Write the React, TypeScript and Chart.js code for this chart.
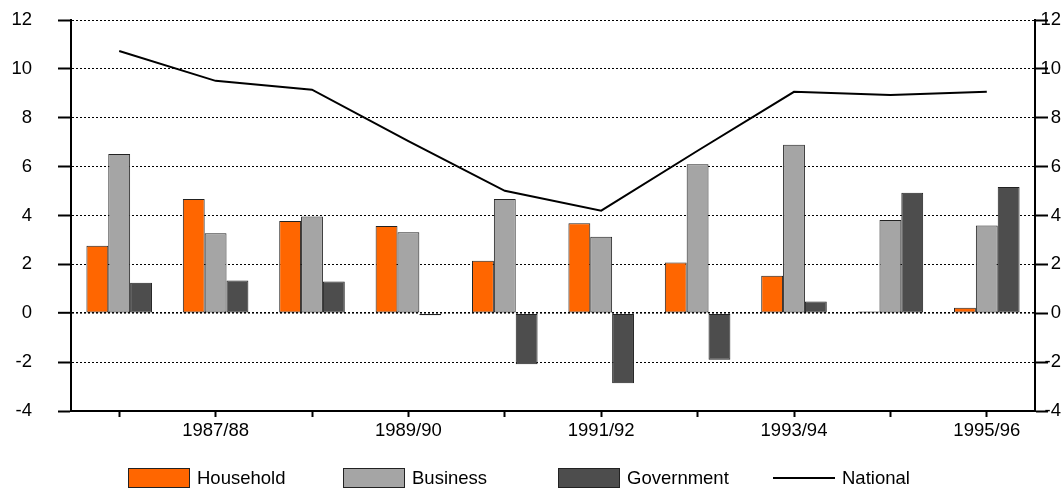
import React, { useEffect, useRef } from 'react';
import { Chart, registerables } from 'chart.js';

Chart.register(...registerables);

const categories = ['1986/87', '1987/88', '1988/89', '1989/90', '1990/91', '1991/92', '1992/93', '1993/94', '1994/95', '1995/96'];
const tickLabels = ['', '1987/88', '', '1989/90', '', '1991/92', '', '1993/94', '', '1995/96'];
const household = [2.76, 4.68, 3.78, 3.57, 2.15, 3.68, 2.08, 1.53, 0.07, 0.23];
const business = [6.52, 3.27, 3.96, 3.31, 4.68, 3.13, 6.10, 6.90, 3.82, 3.59];
const government = [1.25, 1.34, 1.30, -0.08, -2.09, -2.86, -1.90, 0.48, 4.93, 5.17];
const national = [10.73, 9.51, 9.15, 7.04, 5.01, 4.20, 6.65, 9.06, 8.93, 9.06];

const FONT = "'Liberation Sans', Arial, sans-serif";
const FONT_SIZE = 18.5;
const ORANGE = '#FF6600';
const GREY = '#A5A5A5';
const DARK = '#4D4D4D';
const EDGE = '#222222';

const legendItems = [
  { label: 'Household', kind: 'box', color: ORANGE },
  { label: 'Business', kind: 'box', color: GREY },
  { label: 'Government', kind: 'box', color: DARK },
  { label: 'National', kind: 'line', color: '#000000' },
];

const legendPlugin = {
  id: 'fixedLegend',
  afterDraw(chart: any) {
    const ctx = chart.ctx;
    const cy = chart.height - 11;
    const startX = 128;
    const step = 215;
    const boxW = 62;
    const boxH = 20;
    ctx.save();
    ctx.font = `${FONT_SIZE}px ${FONT}`;
    ctx.textBaseline = 'middle';
    ctx.textAlign = 'left';
    legendItems.forEach((it, i) => {
      const x = startX + i * step;
      if (it.kind === 'box') {
        ctx.fillStyle = it.color;
        ctx.fillRect(x, cy - boxH / 2, boxW, boxH);
        ctx.strokeStyle = EDGE;
        ctx.lineWidth = 1;
        ctx.strokeRect(x + 0.5, cy - boxH / 2 + 0.5, boxW - 1, boxH - 1);
      } else {
        ctx.strokeStyle = it.color;
        ctx.lineWidth = 2;
        ctx.beginPath();
        ctx.moveTo(x, cy);
        ctx.lineTo(x + boxW, cy);
        ctx.stroke();
      }
      ctx.fillStyle = '#000';
      ctx.fillText(it.label, x + boxW + 7, cy + 1);
    });
    ctx.restore();
  },
};

export default function App() {
  const ref = useRef<HTMLCanvasElement>(null);
  useEffect(() => {
    if (!ref.current) return;
    const font = { family: FONT, size: FONT_SIZE };
    const barCommon = {
      type: 'bar' as const,
      borderColor: EDGE,
      borderWidth: 1,
      borderSkipped: false,
      categoryPercentage: 0.68,
      barPercentage: 1.0,
      yAxisID: 'y',
    };
    const chart = new Chart(ref.current, {
      type: 'bar',
      data: {
        labels: categories,
        datasets: [
          { ...barCommon, label: 'Household', data: household, backgroundColor: ORANGE },
          { ...barCommon, label: 'Business', data: business, backgroundColor: GREY },
          { ...barCommon, label: 'Government', data: government, backgroundColor: DARK },
          {
            type: 'line',
            label: 'National',
            data: national,
            borderColor: '#000',
            borderWidth: 2,
            pointRadius: 0,
            tension: 0,
            fill: false,
            order: -1,
            yAxisID: 'y',
          } as any,
        ],
      },
      options: {
        responsive: false,
        animation: false,
        devicePixelRatio: 1,
        layout: { padding: { top: 20, bottom: 48, left: 0, right: 0 } },
        plugins: { legend: { display: false }, tooltip: { enabled: false } },
        scales: {
          x: {
            offset: true,
            ticks: {
              autoSkip: false,
              maxRotation: 0,
              padding: 3,
              color: '#000',
              font,
              callback: (_v: any, i: number) => tickLabels[i],
            },
            grid: {
              drawOnChartArea: false,
              offset: false,
              tickLength: 6,
              tickWidth: 2,
              tickColor: '#000',
            },
            border: { display: true, color: '#000', width: 2 },
            afterFit: (s: any) => { s.height = 30; s.paddingLeft = 0; s.paddingRight = 0; },
          },
          y: {
            position: 'left',
            min: -4,
            max: 12,
            ticks: { stepSize: 2, color: '#000', font, padding: 26 },
            grid: {
              color: '#000',
              lineWidth: (c: any) => (c.tick && c.tick.value === 0 ? 1.6 : 1),
              tickLength: 13,
              tickWidth: 2,
              tickColor: '#000',
              tickBorderDash: [],
            },
            border: { display: true, color: '#000', width: 2, dash: [2, 2] },
            afterFit: (s: any) => { s.width = 71; s.paddingTop = 0; s.paddingBottom = 0; },
          },
          y1: {
            position: 'right',
            min: -4,
            max: 12,
            ticks: { stepSize: 2, color: '#000', font, padding: -10, crossAlign: 'far' },
            grid: {
              drawOnChartArea: false,
              tickLength: 13,
              tickWidth: 2,
              tickColor: '#000',
              tickBorderDash: [],
            },
            border: { display: true, color: '#000', width: 2 },
            afterFit: (s: any) => { s.width = 26; s.paddingTop = 0; s.paddingBottom = 0; },
          },
        },
      } as any,
      plugins: [legendPlugin],
    });
    return () => chart.destroy();
  }, []);

  return (
    <div style={{ position: 'absolute', left: 0, top: 0, width: 1061, height: 489, background: '#fff' }}>
      <canvas ref={ref} width={1061} height={489} style={{ display: 'block' }} />
    </div>
  );
}
